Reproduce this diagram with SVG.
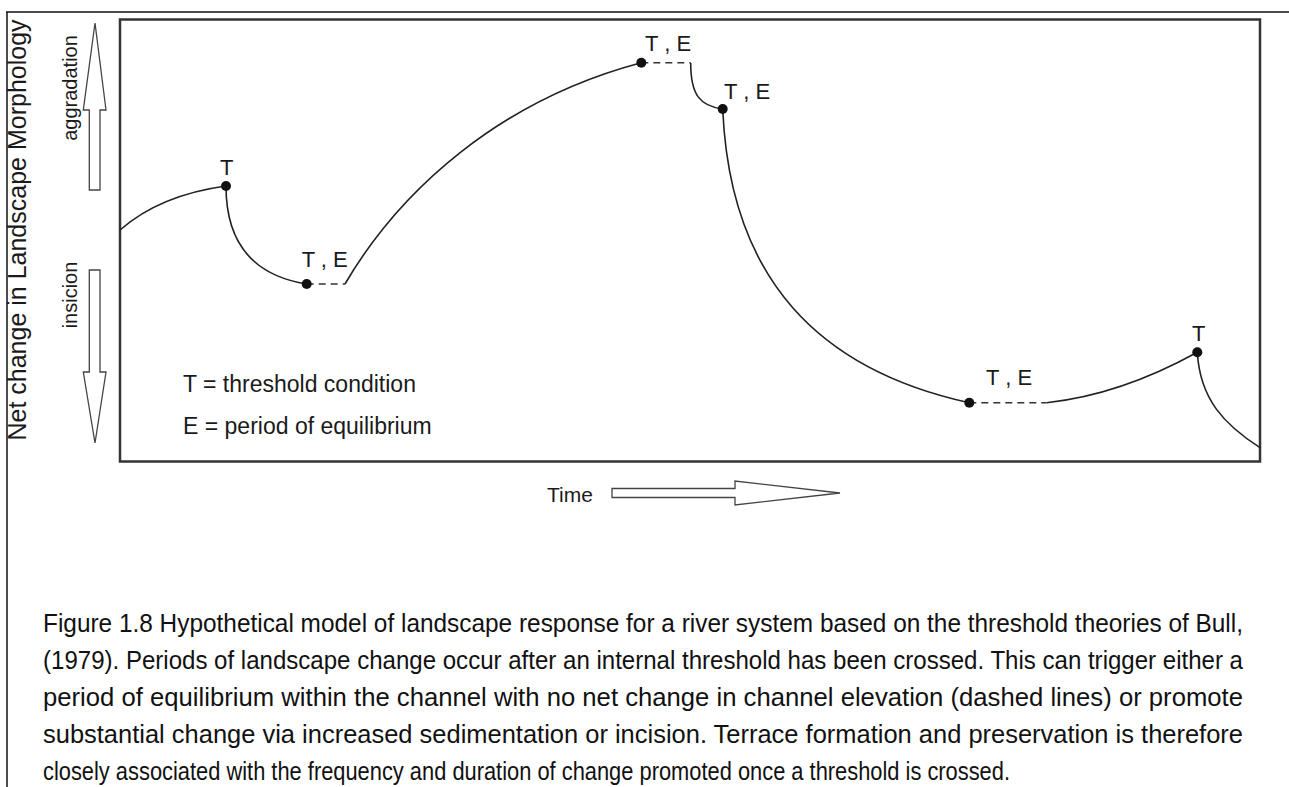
<svg xmlns="http://www.w3.org/2000/svg" width="1289" height="787" viewBox="0 0 1289 787">
<style>
.lbl{font-family:"Liberation Sans",Arial,sans-serif;fill:#1a1a1a}
.curve{fill:none;stroke:#222;stroke-width:1.6}
.dash{fill:none;stroke:#333;stroke-width:1.6;stroke-dasharray:7,5}
.dot{fill:#111}
.harrow{fill:#fff;stroke:#444;stroke-width:1.3}
.cap{font-family:"Liberation Sans",Arial,sans-serif;font-size:25px;fill:#111}
</style>
<rect x="0" y="0" width="1289" height="787" fill="#fff"/>
<g id="page-border">
<line x1="6" y1="12" x2="1289" y2="12" stroke="#111" stroke-width="1.5"/>
<line x1="7" y1="12" x2="7" y2="787" stroke="#111" stroke-width="1.5"/>
</g>
<g id="frame">
<rect x="120" y="19.5" width="1140" height="442" fill="none" stroke="#333" stroke-width="2.5"/>
</g>
<g id="axis-y">
<text class="lbl" font-size="25" text-anchor="middle" transform="translate(26,230) rotate(-90)">Net change in Landscape Morphology</text>
<text class="lbl" font-size="20" text-anchor="middle" transform="translate(77,88) rotate(-90)">aggradation</text>
<text class="lbl" font-size="20" text-anchor="middle" transform="translate(77,295) rotate(-90)">insicion</text>
<polygon class="harrow" points="89.3,190 100,190 100,110 106,110 95,23 83.3,110 89.3,110"/>
<polygon class="harrow" points="89.3,270 100,270 100,372 106,372 95,443 83.3,372 89.3,372"/>
</g>
<g id="axis-x">
<text class="lbl" font-size="21" x="547" y="502">Time</text>
<polygon class="harrow" points="612,488.5 735,488.5 735,481 840,493 735,505 735,497.5 612,497.5"/>
</g>
<g id="connectors">
<path class="curve" d="M120,230 Q160,195 226,186"/>
<path class="curve" d="M226,186 C226,240 250,275 306.7,284"/>
<path class="dash" d="M306.7,284 H345"/>
<path class="curve" d="M345,284 C400,190 500,100 641.3,62.7"/>
<path class="dash" d="M641.3,62.7 H690.7"/>
<path class="curve" d="M690.7,63 C690.7,95 700,106 722.7,109"/>
<path class="curve" d="M722.7,109 C730,280 820,370 969.3,402.7"/>
<path class="dash" d="M969.3,402.7 H1046.7"/>
<path class="curve" d="M1046.7,402.7 Q1120,395 1197.3,352.3"/>
<path class="curve" d="M1197.3,352.3 C1200,400 1225,425 1260,447.7"/>
</g>
<g id="node-t1"><circle class="dot" cx="226" cy="186" r="5"/><text class="lbl" font-size="22" x="220" y="175">T</text></g>
<g id="node-te1"><circle class="dot" cx="306.7" cy="284" r="5"/><text class="lbl" font-size="22" x="301.7" y="266.7">T , E</text></g>
<g id="node-te2"><circle class="dot" cx="641.3" cy="62.7" r="5"/><text class="lbl" font-size="22" x="645" y="50.7">T , E</text></g>
<g id="node-te3"><circle class="dot" cx="722.7" cy="109" r="5"/><text class="lbl" font-size="22" x="724" y="99">T , E</text></g>
<g id="node-te4"><circle class="dot" cx="969.3" cy="402.7" r="5"/><text class="lbl" font-size="22" x="986" y="385">T , E</text></g>
<g id="node-t2"><circle class="dot" cx="1197.3" cy="352.3" r="5"/><text class="lbl" font-size="22" x="1192" y="340.7">T</text></g>
<g id="legend">
<text class="lbl" font-size="23" x="183" y="391.7">T = threshold condition</text>
<text class="lbl" font-size="23" x="183" y="434">E = period of equilibrium</text>
</g>
<g id="caption">
<text class="cap" x="43" y="632" textLength="1200" lengthAdjust="spacingAndGlyphs">Figure 1.8 Hypothetical model of landscape response for a river system based on the threshold theories of Bull,</text>
<text class="cap" x="43" y="669" textLength="1200" lengthAdjust="spacingAndGlyphs">(1979). Periods of landscape change occur after an internal threshold has been crossed. This can trigger either a</text>
<text class="cap" x="43" y="706" textLength="1200" lengthAdjust="spacingAndGlyphs">period of equilibrium within the channel with no net change in channel elevation (dashed lines) or promote</text>
<text class="cap" x="43" y="743" textLength="1200" lengthAdjust="spacingAndGlyphs">substantial change via increased sedimentation or incision. Terrace formation and preservation is therefore</text>
<text class="cap" x="43" y="780" textLength="967" lengthAdjust="spacingAndGlyphs">closely associated with the frequency and duration of change promoted once a threshold is crossed.</text>
</g>
</svg>
